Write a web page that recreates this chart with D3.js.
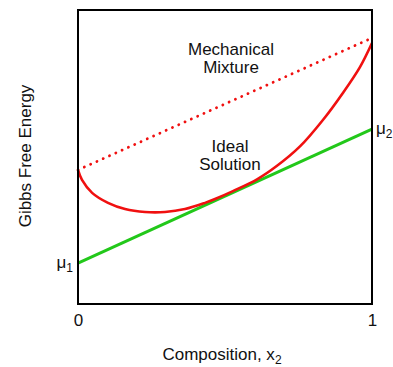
<!doctype html>
<html>
<head>
<style>
body { margin: 0; background: #fff; }
text { font-family: "Liberation Sans", Arial, sans-serif; fill: #111; }
</style>
<script src="https://d3js.org/d3.v7.min.js"></script>
</head>
<body>
<svg width="393" height="367"></svg>
<script>
// composition x2 and free energy readings (arbitrary units)
var compX   = [0, 0.0136, 0.048, 0.102, 0.16, 0.228, 0.296, 0.364, 0.432, 0.466, 0.527, 0.609, 0.677, 0.755, 0.833, 0.901, 0.959, 1.0];
var idealG  = [4.56, 4.22, 3.78, 3.44, 3.23, 3.13, 3.13, 3.23, 3.44, 3.57, 3.84, 4.24, 4.70, 5.36, 6.26, 7.18, 8.06, 8.88];
var endX    = [0, 1];
var mechG   = [4.56, 9.05];
var muG     = [1.39, 5.95];
var xTicks  = [0, 1];

var svg = d3.select("svg");
var pLeft = 78, pRight = 372, pTop = 10, pBottom = 304;

var x = d3.scaleLinear().domain([0, 1]).range([pLeft, pRight]);
var y = d3.scaleLinear().domain([0, 10]).range([pBottom, pTop]);

var line = d3.line()
    .x(function(d) { return x(d[0]); })
    .y(function(d) { return y(d[1]); });

// mechanical mixture (dotted)
svg.append("path")
   .datum(d3.zip(endX, mechG))
   .attr("d", line)
   .attr("fill", "none")
   .attr("stroke", "#f01010")
   .attr("stroke-width", 2.8)
   .attr("stroke-linecap", "round")
   .attr("stroke-dasharray", "0.1,6.8");

// chemical potential line
svg.append("path")
   .datum(d3.zip(endX, muG))
   .attr("d", line)
   .attr("fill", "none")
   .attr("stroke", "#22c81a")
   .attr("stroke-width", 3);

// ideal solution curve
svg.append("path")
   .datum(d3.zip(compX, idealG))
   .attr("d", line.curve(d3.curveCatmullRom))
   .attr("fill", "none")
   .attr("stroke", "#f01010")
   .attr("stroke-width", 2.6);

// frame
svg.append("rect")
   .attr("x", pLeft).attr("y", pTop)
   .attr("width", pRight - pLeft).attr("height", pBottom - pTop)
   .attr("fill", "none")
   .attr("stroke", "#000")
   .attr("stroke-width", 2);

var ax = svg.append("g")
   .attr("transform", "translate(0," + pBottom + ")")
   .call(d3.axisBottom(x).tickValues(xTicks).tickSize(0).tickPadding(10).tickFormat(d3.format("d")));
ax.select(".domain").remove();
ax.selectAll("text").style("font-size", "17px").attr("fill", "#111")
  .style("font-family", "'Liberation Sans', Arial, sans-serif");

// labels
function label(tx, ty, str, anchor) {
    return svg.append("text").attr("x", tx).attr("y", ty)
        .attr("text-anchor", anchor || "middle")
        .style("font-size", "17px").text(str);
}
label(231, 55, "Mechanical");
label(231, 73, "Mixture");
label(230, 152, "Ideal");
label(230, 170, "Solution");

var xl = label(222, 360, "Composition, x");
xl.append("tspan").attr("dy", 4).style("font-size", "12px").text("2");

svg.append("text")
   .attr("transform", "translate(31,156) rotate(-90)")
   .attr("text-anchor", "middle")
   .style("font-size", "17px")
   .text("Gibbs Free Energy");

var m1 = label(73, 268, "\u03bc", "end");
m1.append("tspan").attr("dy", 4).style("font-size", "12px").text("1");
var m2 = label(376, 134, "\u03bc", "start");
m2.append("tspan").attr("dy", 4).style("font-size", "12px").text("2");
</script>
</body>
</html>
